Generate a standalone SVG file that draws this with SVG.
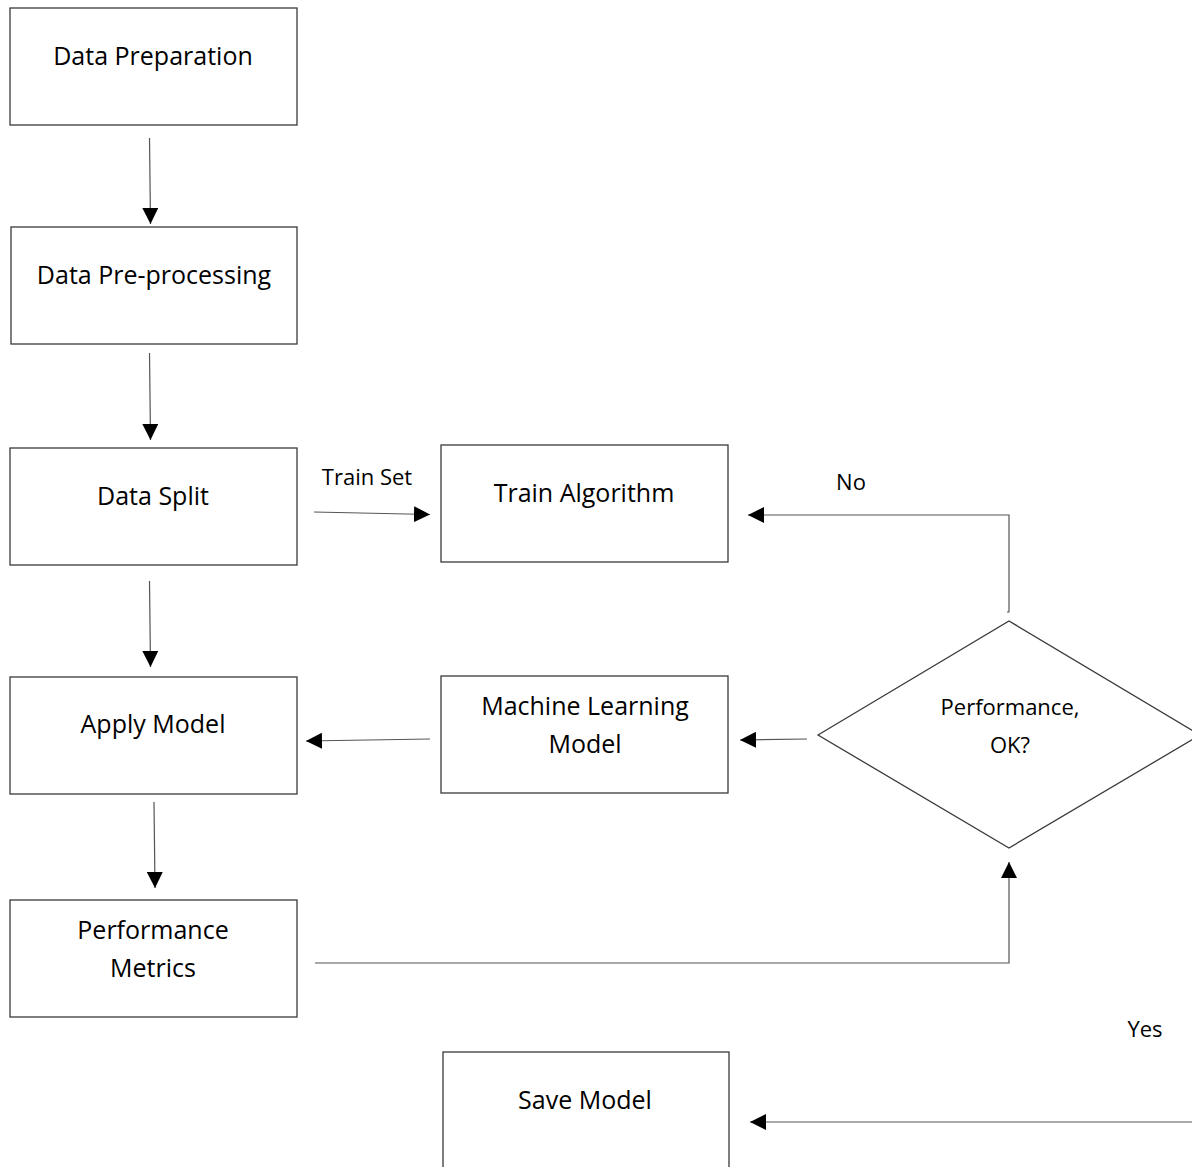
<svg xmlns="http://www.w3.org/2000/svg" width="1192" height="1167" viewBox="0 0 1192 1167">
<style>
.box{fill:#fff;stroke:#3a3a3a;stroke-width:1.3}
.t{font-family:"Open Sans","Liberation Sans",sans-serif;font-size:25px;fill:#000;text-anchor:middle}
.s{font-family:"Open Sans","Liberation Sans",sans-serif;font-size:22px;fill:#000;text-anchor:middle}
.c{fill:none;stroke:#555;stroke-width:1.2}
</style>
<defs>
<marker id="ah" markerUnits="userSpaceOnUse" markerWidth="16" markerHeight="16" refX="16" refY="8" orient="auto" viewBox="0 0 16 16">
<path d="M0,0 L16,8 L0,16 z" fill="#000"/>
</marker>
</defs>
<rect width="1192" height="1167" fill="#fff"/>
<g id="n-prep"><rect class="box" x="10" y="8" width="287" height="117"/><text class="t" x="153" y="65">Data Preparation</text></g>
<g id="n-preproc"><rect class="box" x="11" y="227" width="286" height="117"/><text class="t" x="154" y="284">Data Pre-processing</text></g>
<g id="n-split"><rect class="box" x="10" y="448" width="287" height="117"/><text class="t" x="153" y="505">Data Split</text></g>
<g id="n-apply"><rect class="box" x="10" y="677" width="287" height="117"/><text class="t" x="153" y="733">Apply Model</text></g>
<g id="n-metrics"><rect class="box" x="10" y="900" width="287" height="117"/><text class="t" x="153" y="939">Performance</text><text class="t" x="153" y="977">Metrics</text></g>
<g id="n-train"><rect class="box" x="441" y="445" width="287" height="117"/><text class="t" x="584" y="502">Train Algorithm</text></g>
<g id="n-ml"><rect class="box" x="441" y="676" width="287" height="117"/><text class="t" x="585" y="715">Machine Learning</text><text class="t" x="585" y="753">Model</text></g>
<g id="n-save"><rect class="box" x="443" y="1052" width="286" height="130"/><text class="t" x="585" y="1109">Save Model</text></g>
<g id="n-decision"><polygon class="box" points="818,735 1009,621 1200,735 1009,848"/><text class="s" x="1010" y="715">Performance,</text><text class="s" x="1010" y="753">OK?</text></g>
<g id="connectors">
<path class="c" d="M149.5,138 L150.5,224" marker-end="url(#ah)"/>
<path class="c" d="M149.5,353 L150.5,440" marker-end="url(#ah)"/>
<path class="c" d="M149.5,581 L150.5,667" marker-end="url(#ah)"/>
<path class="c" d="M154,802 L155,888" marker-end="url(#ah)"/>
<path class="c" d="M314,512 L430,514.5" marker-end="url(#ah)"/>
<path class="c" d="M1007,612 L1009,612 L1009,515 L748,515" marker-end="url(#ah)"/>
<path class="c" d="M807,739 L740,740" marker-end="url(#ah)"/>
<path class="c" d="M430,739 L306,741" marker-end="url(#ah)"/>
<path class="c" d="M315,963 L1009,963 L1009,862" marker-end="url(#ah)"/>
<path class="c" d="M1192,1122 L750,1122" marker-end="url(#ah)"/>
<text class="s" x="367" y="485">Train Set</text>
<text class="s" x="851" y="490">No</text>
<text class="s" x="1145" y="1037">Yes</text>
</g>
</svg>
